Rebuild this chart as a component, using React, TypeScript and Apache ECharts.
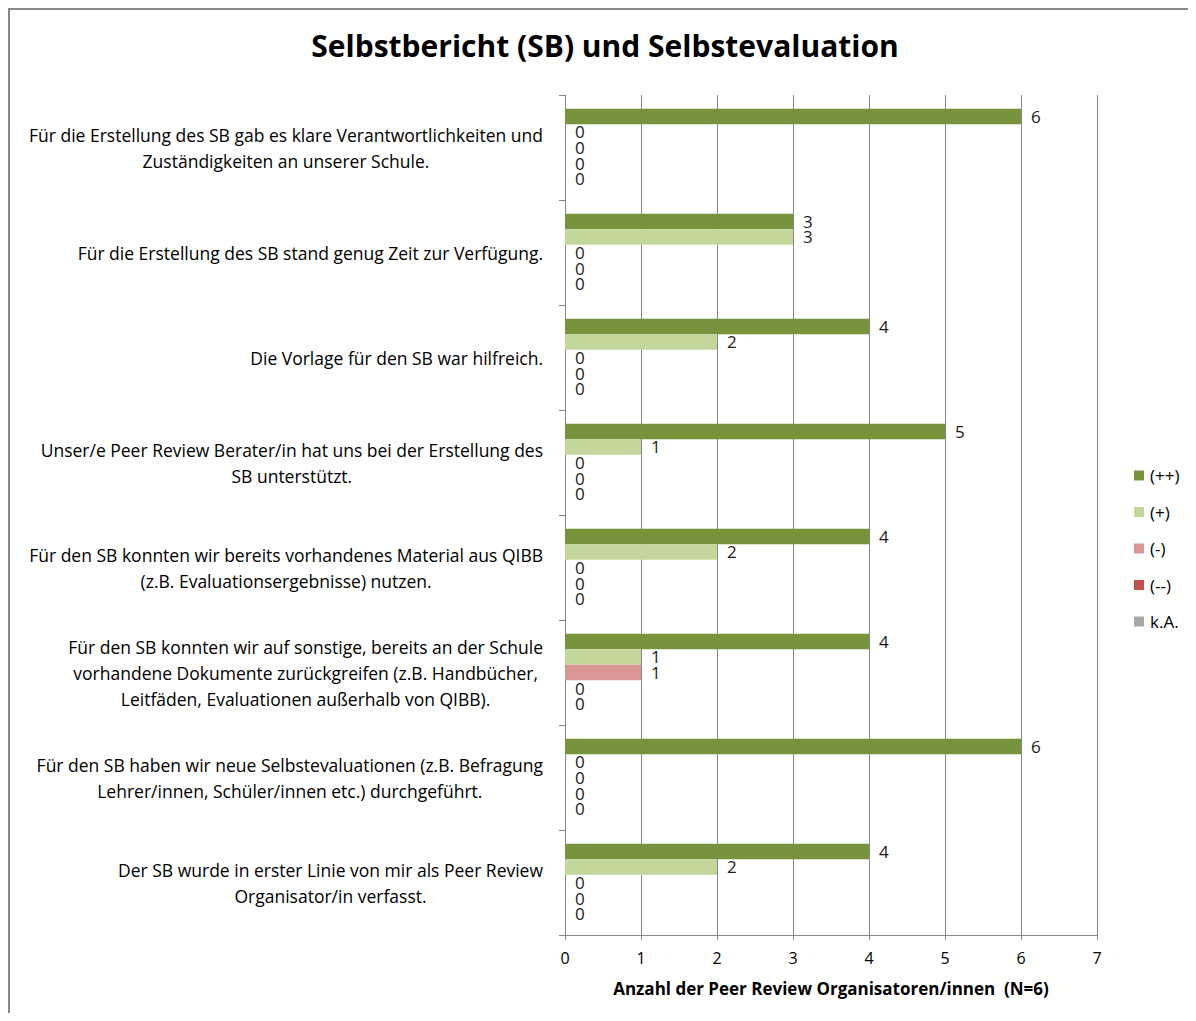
import React, { useEffect, useRef } from "react";
import * as echarts from "echarts";

const categories = [
  "Für die Erstellung des SB gab es klare Verantwortlichkeiten und\nZuständigkeiten an unserer Schule.",
  "Für die Erstellung des SB stand genug Zeit zur Verfügung.",
  "Die Vorlage für den SB war hilfreich.",
  "Unser/e Peer Review Berater/in hat uns bei der Erstellung des\nSB unterstützt.",
  "Für den SB konnten wir bereits vorhandenes Material aus QIBB\n(z.B. Evaluationsergebnisse) nutzen.",
  "Für den SB konnten wir auf sonstige, bereits an der Schule\nvorhandene Dokumente zurückgreifen (z.B. Handbücher,\nLeitfäden, Evaluationen außerhalb von QIBB).",
  "Für den SB haben wir neue Selbstevaluationen (z.B. Befragung\nLehrer/innen, Schüler/innen etc.) durchgeführt.",
  "Der SB wurde in erster Linie von mir als Peer Review\nOrganisator/in verfasst.",
];

const seriesNames = ["(++)", "(+)", "(-)", "(--)", "k.A."];
const valuesPlusPlus = [6, 3, 4, 5, 4, 4, 6, 4];
const valuesPlus = [0, 3, 2, 1, 2, 1, 0, 2];
const valuesMinus = [0, 0, 0, 0, 0, 1, 0, 0];
const valuesMinusMinus = [0, 0, 0, 0, 0, 0, 0, 0];
const valuesKA = [0, 0, 0, 0, 0, 0, 0, 0];
const xTicks = [0, 1, 2, 3, 4, 5, 6, 7];

const colors = ["#77933C", "#C3D69B", "#D99694", "#C0504D", "#A6A6A6"];
const FONT = "'Open Sans', Lato, sans-serif";

export default function App() {
  const ref = useRef<HTMLDivElement>(null);
  useEffect(() => {
    if (!ref.current) return;
    const chart = echarts.init(ref.current, undefined, { renderer: "svg" });
    const allValues = [valuesPlusPlus, valuesPlus, valuesMinus, valuesMinusMinus, valuesKA];
    chart.setOption({
      animation: false,
      textStyle: { fontFamily: FONT },
      title: {
        text: "Selbstbericht (SB) und Selbstevaluation",
        left: 590,
        top: 15,
        textAlign: "center",
        textStyle: { fontFamily: FONT, fontSize: 30, fontWeight: "bold", color: "#000" },
      },
      legend: {
        orient: "vertical",
        left: 1119,
        top: 452,
        itemWidth: 10,
        itemHeight: 10,
        itemGap: 19.5,
        icon: "rect",
        textStyle: { fontFamily: FONT, fontSize: 17, color: "#000", padding: [0, 0, 0, 1] },
        data: seriesNames,
      },
      grid: { left: 555, right: 99, top: 85, bottom: 78, containLabel: false },
      xAxis: {
        type: "value",
        min: 0,
        max: 7,
        interval: 1,
        name: "Anzahl der Peer Review Organisatoren/innen  (N=6)",
        nameLocation: "middle",
        nameGap: 45,
        nameTextStyle: { fontFamily: FONT, fontSize: 17, fontWeight: "bold", color: "#000" },
        axisLine: { show: true, lineStyle: { color: "#868686", width: 1 } },
        axisTick: { show: true, length: 5, lineStyle: { color: "#868686" } },
        axisLabel: {
          fontFamily: FONT,
          fontSize: 16,
          color: "#000",
          margin: 15,
          formatter: (v: number) => (xTicks.includes(v) ? String(v) : ""),
        },
        splitLine: { show: true, lineStyle: { color: "#868686", width: 1 } },
      },
      yAxis: {
        type: "category",
        inverse: true,
        data: categories,
        axisLine: { show: true, lineStyle: { color: "#868686", width: 1 } },
        axisTick: { show: true, length: 6, lineStyle: { color: "#868686" } },
        axisLabel: {
          margin: 22,
          formatter: (v: string) =>
            v
              .split("\n")
              .map((l) => `{c|${l}}`)
              .join("\n"),
          rich: {
            c: { align: "center", fontFamily: FONT, fontSize: 17.5, lineHeight: 26, color: "#000" },
          },
        },
      },
      series: seriesNames.map((name, i) => ({
        name,
        type: "bar",
        data: allValues[i],
        barGap: "0%",
        barCategoryGap: "26%",
        itemStyle: { color: colors[i] },
        label: {
          show: true,
          position: "right",
          distance: 10,
          fontFamily: FONT,
          fontSize: 17,
          lineHeight: 15,
          color: "#1a1a1a",
        },
      })),
    });
    return () => chart.dispose();
  }, []);
  return (
    <div
      ref={ref}
      style={{
        width: 1186,
        height: 1003,
        borderLeft: "2px solid #888",
        borderTop: "2px solid #888",
        background: "#fff",
      }}
    />
  );
}
